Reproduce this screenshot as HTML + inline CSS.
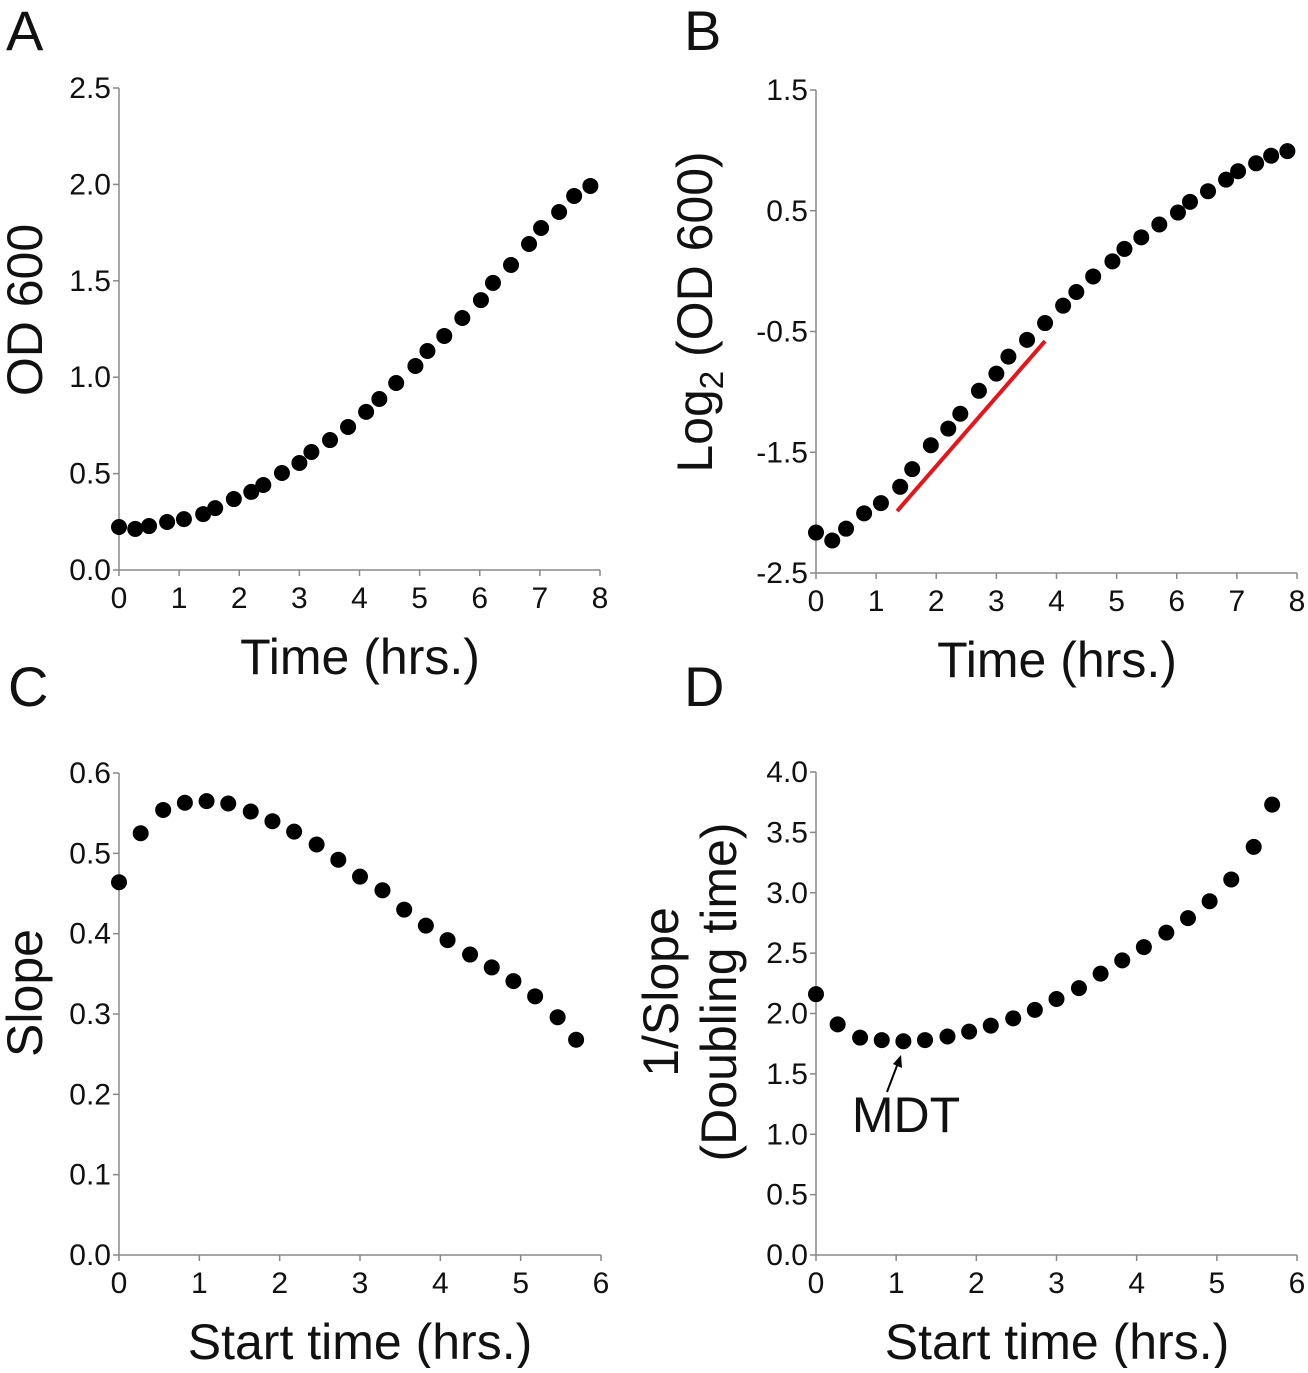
<!DOCTYPE html>
<html><head><meta charset="utf-8"><style>
html,body{margin:0;padding:0;background:#fff}
svg text{font-family:"Liberation Sans",Arial,sans-serif;fill:#111}
</style></head><body>
<svg id="fig" width="1308" height="1368" xmlns="http://www.w3.org/2000/svg"></svg>
<script>
const timeA=[0,0.27,0.5,0.8,1.08,1.4,1.6,1.91,2.2,2.4,2.71,3.0,3.2,3.51,3.81,4.11,4.33,4.61,4.93,5.13,5.41,5.71,6.02,6.22,6.52,6.82,7.02,7.32,7.57,7.84];
const odA=[0.223,0.213,0.228,0.249,0.264,0.290,0.321,0.368,0.405,0.441,0.503,0.555,0.612,0.674,0.742,0.820,0.887,0.970,1.058,1.136,1.214,1.307,1.400,1.489,1.582,1.691,1.774,1.857,1.940,1.992];
const logB=[-2.165,-2.231,-2.133,-2.006,-1.921,-1.786,-1.640,-1.442,-1.304,-1.181,-0.991,-0.849,-0.708,-0.569,-0.430,-0.286,-0.173,-0.044,0.081,0.184,0.280,0.386,0.485,0.574,0.662,0.758,0.827,0.893,0.956,0.994];
const fitX=[1.35,3.81];
const fitY=[-1.987,-0.579];
const startC=[0,0.27,0.55,0.82,1.09,1.36,1.64,1.91,2.18,2.46,2.73,3.0,3.28,3.55,3.82,4.09,4.37,4.64,4.91,5.18,5.46,5.69];
const slopeC=[0.464,0.525,0.554,0.563,0.565,0.562,0.552,0.540,0.527,0.511,0.492,0.471,0.454,0.430,0.410,0.392,0.374,0.358,0.341,0.322,0.296,0.268];
const dtD=[2.16,1.91,1.80,1.78,1.77,1.78,1.81,1.85,1.90,1.96,2.03,2.12,2.21,2.33,2.44,2.55,2.67,2.79,2.93,3.11,3.38,3.73];
const xTicks8=[0,1,2,3,4,5,6,7,8];
const xTicks6=[0,1,2,3,4,5,6];
const yTicksA=["0.0","0.5","1.0","1.5","2.0","2.5"];
const yTicksB=["-2.5","-1.5","-0.5","0.5","1.5"];
const yTicksC=["0.0","0.1","0.2","0.3","0.4","0.5","0.6"];
const yTicksD=["0.0","0.5","1.0","1.5","2.0","2.5","3.0","3.5","4.0"];

const NS="http://www.w3.org/2000/svg";
const svg=document.getElementById('fig');
function mk(tag,attrs,parent){const e=document.createElementNS(NS,tag);for(const k in attrs)e.setAttribute(k,attrs[k]);(parent||svg).appendChild(e);return e;}
function txt(s,attrs,parent){const e=mk('text',attrs,parent);e.textContent=s;return e;}

function panel(p){
  const g=mk('g',{});
  
  
  const sx=v=>p.x0+(v-p.xmin)/(p.xmax-p.xmin)*(p.x1-p.x0);
  const sy=v=>p.y0-(v-p.ymin)/(p.ymax-p.ymin)*(p.y0-p.y1);
  const ax=mk('path',{d:`M${p.x0} ${p.y1}V${p.y0}H${p.x1}`,stroke:'#888',fill:'none','stroke-width':1.5},g);
  
  
  p.xt.forEach(v=>{
    mk('line',{x1:sx(v),x2:sx(v),y1:p.y0,y2:p.y0+6,stroke:'#888','stroke-width':1.5},g);
    const t=txt(String(v),{x:sx(v),y:p.y0+38,'font-size':30,'text-anchor':'middle'},g);
    
    
  });
  p.yt.forEach(s=>{
    const v=parseFloat(s);
    mk('line',{x1:p.x0-6,x2:p.x0,y1:sy(v),y2:sy(v),stroke:'#888','stroke-width':1.5},g);
    const t=txt(s,{x:p.x0-8,y:sy(v)+10,'font-size':30,'text-anchor':'end'},g);
    
    
  });
  p.xs.forEach((xv,i)=>{
    const c=mk('circle',{cx:sx(xv),cy:sy(p.ys[i]),r:8,fill:'#000'},g);
    
    
  });
  const xl=txt(p.xlabel,{x:p.xlx,y:p.y0+104,'font-size':50,'text-anchor':'middle'},g);
  
  
  return {g,sx,sy};
}

const A=panel({name:'panel-a',x0:119,x1:600,y0:570,y1:88,xmin:0,xmax:8,ymin:0,ymax:2.5,xt:xTicks8,yt:yTicksA,xs:timeA,ys:odA,xlabel:'Time (hrs.)',xlx:360});
const B=panel({name:'panel-b',x0:816,x1:1297,y0:573,y1:90,xmin:0,xmax:8,ymin:-2.5,ymax:1.5,xt:xTicks8,yt:yTicksB,xs:timeA,ys:logB,xlabel:'Time (hrs.)',xlx:1057});
const C=panel({name:'panel-c',x0:119,x1:601,y0:1255,y1:773,xmin:0,xmax:6,ymin:0,ymax:0.6,xt:xTicks6,yt:yTicksC,xs:startC,ys:slopeC,xlabel:'Start time (hrs.)',xlx:360});
const D=panel({name:'panel-d',x0:816,x1:1297,y0:1255,y1:772,xmin:0,xmax:6,ymin:0,ymax:4,xt:xTicks6,yt:yTicksD,xs:startC,ys:dtD,xlabel:'Start time (hrs.)',xlx:1057});

const fit=mk('line',{x1:B.sx(fitX[0]),y1:B.sy(fitY[0]),x2:B.sx(fitX[1]),y2:B.sy(fitY[1]),stroke:'#e8141b','stroke-width':4});



function ytitle(s,x,y,name){const t=txt(s,{x:0,y:0,'font-size':50,'text-anchor':'middle',transform:`translate(${x},${y}) rotate(-90)`});return t;}
ytitle('OD 600',42,310,'y-axis-title-a');
const lt=ytitle('',712,312,'y-axis-title-b');
lt.innerHTML='Log<tspan font-size="33" dy="11">2</tspan><tspan dy="-11"> (OD 600)</tspan>';
ytitle('Slope',42,993,'y-axis-title-c');
ytitle('1/Slope',678,992,'y-axis-title-d-line1');
ytitle('(Doubling time)',736,992,'y-axis-title-d-line2');

const m=txt('MDT',{x:906,y:1132,'font-size':50,'text-anchor':'middle'});


const ar=mk('path',{d:'M887 1092L898 1063',stroke:'#000','stroke-width':2,fill:'none'});


const ah=mk('path',{d:'M901 1055L902 1068L893 1064Z',fill:'#000'});



[['A',6,50],['B',684,50],['C',8,706],['D',684,706]].forEach(([s,x,y])=>{
  const t=txt(s,{x:x,y:y,'font-size':56});
  
  
});
</script>
</body></html>
